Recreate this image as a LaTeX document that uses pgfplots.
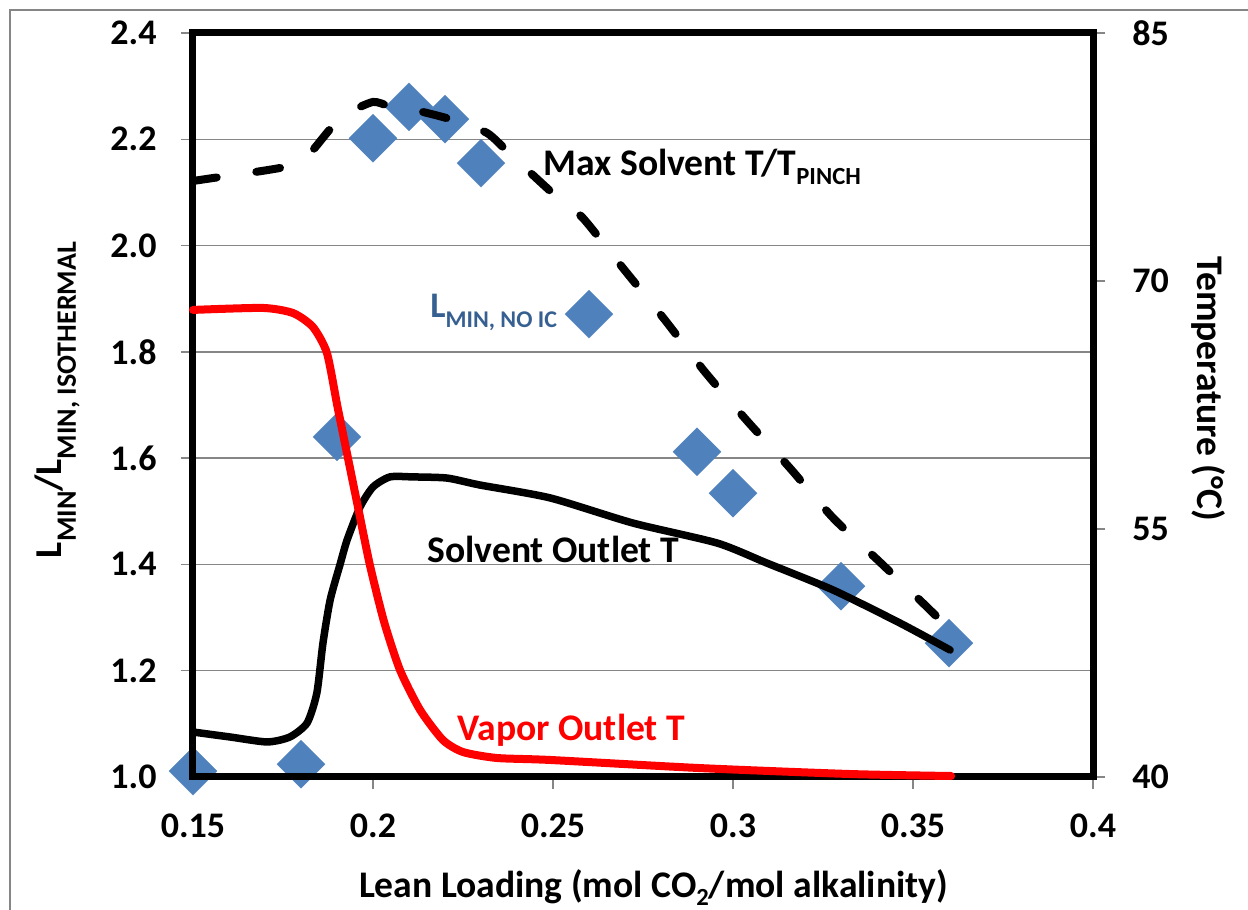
\documentclass[border=0pt]{standalone}
\usepackage{fontspec}
\setmainfont{Carlito}
\usepackage{pgfplots}
\pgfplotsset{compat=1.18}
\definecolor{diam}{RGB}{79,129,189}
\definecolor{lbl}{RGB}{55,96,146}
\definecolor{gridc}{RGB}{134,134,134}
\newcommand{\sub}[3][12.3]{\raisebox{-#2}{\fontsize{#1}{13}\selectfont #3}}
\newcommand{\rt}[1]{\hspace*{13.5pt}#1}
\begin{document}
\begin{tikzpicture}[font=\fontsize{18.8}{22}\selectfont\bfseries]
\path[use as bounding box] (-96.5pt,-66.5pt) rectangle (527.5pt,388.5pt);
\draw[gridc, line width=0.6pt] (-91.5pt,-70pt) -- (-91.5pt,383.5pt) -- (530pt,383.5pt);
\begin{axis}[
  at={(0,0)}, anchor=south west,
  scale only axis, width=450pt, height=372pt,
  xmin=0.15, xmax=0.4, ymin=1, ymax=2.4,
  xtick={0.15,0.2,0.25,0.3,0.35,0.4},
  xticklabels={0.15,0.2,0.25,0.3,0.35,0.4},
  ytick={1,1.2,1.4,1.6,1.8,2,2.2,2.4},
  yticklabels={1.0,1.2,1.4,1.6,1.8,2.0,2.2,2.4},
  xtick pos=bottom, ytick pos=left,
  tick align=outside, major tick length=6pt,
  tick style={draw=gridc, line width=0.75pt},
  ymajorgrids, grid style={draw=gridc, line width=0.75pt},
  axis line style={line width=3.5pt, black},
  tick label style={font=\fontsize{18}{21}\selectfont\bfseries, inner sep=0pt},
  xticklabel style={anchor=base, yshift=-24pt},
  yticklabel style={anchor=east, xshift=-12pt},
  clip=false,
]
\addplot[only marks, mark=square*, mark size=8.5pt,
  mark options={rotate=45, fill=diam, draw=diam, line width=0.1pt}] table {
x y
0.15 1.011
0.18 1.024
0.19 1.640
0.20 2.202
0.21 2.261
0.22 2.238
0.23 2.155
0.26 1.871
0.29 1.612
0.30 1.534
0.33 1.359
0.36 1.252
};
\end{axis}
\begin{axis}[
  at={(0,0)}, anchor=south west,
  scale only axis, width=450pt, height=372pt,
  xmin=0.15, xmax=0.4, ymin=40, ymax=85,
  xtick=\empty,
  ytick={40,55,70,85}, yticklabels={\rt{40},\rt{55},\rt{70},\rt{85}},
  ytick pos=right, yticklabel pos=right,
  tick align=outside, major tick length=6pt,
  tick style={draw=gridc, line width=0.75pt},
  axis line style={line width=3.5pt, black},
  tick label style={font=\fontsize{18}{21}\selectfont\bfseries, inner sep=0pt},
  yticklabel style={anchor=west},
  clip=false,
]
\addplot[black, line width=4pt, line cap=round, dash pattern=on 12pt off 20pt, smooth, tension=0.4] table {
x y
0.1500 76.05
0.1575 76.29
0.1672 76.59
0.1756 76.90
0.1800 77.30
0.1833 77.92
0.1886 79.31
0.1936 80.22
0.2000 80.83
0.2042 80.60
0.2089 80.40
0.2139 80.22
0.2222 79.74
0.2317 78.95
0.2375 77.80
0.2444 76.41
0.2511 75.08
0.2583 73.81
0.2694 70.79
0.2811 67.64
0.2922 64.50
0.3042 61.47
0.3158 58.69
0.3278 55.67
0.3408 53.00
0.3539 50.28
0.3603 48.89
};
\addplot[black, line width=3.75pt, line cap=round, smooth, tension=0.4] table {
x y
0.1500 42.72
0.1603 42.42
0.1706 42.12
0.1769 42.42
0.1817 43.27
0.1844 45.08
0.1861 48.10
0.1881 50.71
0.1908 52.82
0.1928 54.33
0.1964 56.33
0.2000 57.54
0.2047 58.15
0.2111 58.15
0.2206 58.08
0.2297 57.66
0.2492 56.88
0.2722 55.36
0.2956 54.15
0.3094 52.94
0.3278 51.31
0.3464 49.31
0.3603 47.68
};
\addplot[red, line width=4pt, line cap=round, smooth, tension=0.4] table {
x y
0.1500 68.25
0.1694 68.37
0.1778 68.06
0.1833 67.22
0.1872 65.65
0.1901 62.44
0.1931 59.23
0.1961 56.03
0.1992 52.76
0.2031 49.37
0.2075 46.47
0.2131 44.05
0.2194 42.24
0.2250 41.51
0.2344 41.15
0.2492 41.03
0.2908 40.54
0.3325 40.18
0.3606 40.06
};
\end{axis}
\node[anchor=base west, inner sep=0pt] at (175pt,300.5pt) {Max Solvent T/T\sub{4.5pt}{PINCH}};
\node[anchor=base west, inner sep=0pt, text=lbl, font=\fontsize{18}{21}\selectfont\bfseries] at (118.5pt,229.5pt) {L\sub[12]{5pt}{MIN, NO IC}};
\node[anchor=base west, inner sep=0pt] at (117pt,107pt) {Solvent Outlet T};
\node[anchor=base west, inner sep=0pt, text=red] at (132pt,18pt) {Vapor Outlet T};
\node[anchor=base, inner sep=0pt, rotate=90, font=\fontsize{19}{22}\selectfont\bfseries] at (-65.5pt,188.5pt) {L\sub[14]{7pt}{MIN}/L\sub[14]{7pt}{MIN, ISOTHERMAL}};
\node[anchor=base, inner sep=0pt, rotate=-90] at (502pt,194pt) {Temperature (°C)};
\node[anchor=base, inner sep=0pt] at (230.25pt,-60pt) {Lean Loading (mol CO\sub{4pt}{2}/mol alkalinity)};
\end{tikzpicture}
\end{document}
